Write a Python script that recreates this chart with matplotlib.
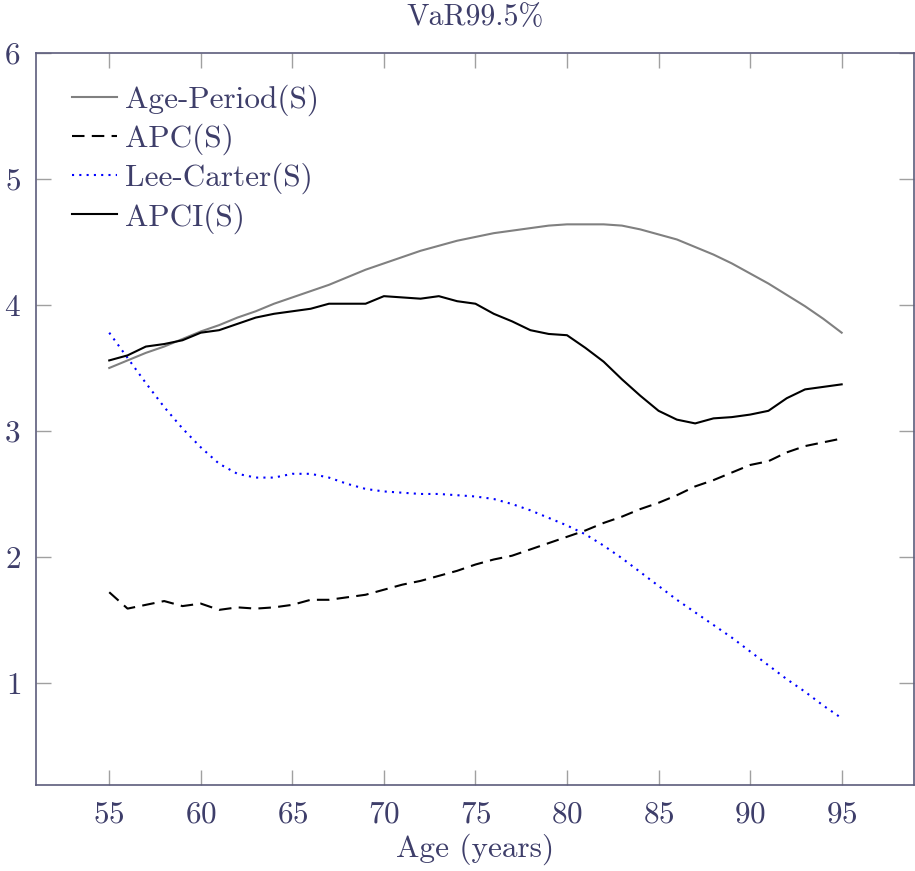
import matplotlib
matplotlib.use("Agg")
import matplotlib.pyplot as plt

# ages and VaR99.5% per model
ages = list(range(55, 96))

age_period = [3.50, 3.56, 3.62, 3.67, 3.73, 3.79, 3.84, 3.90, 3.95, 4.01,
              4.06, 4.11, 4.16, 4.22, 4.28, 4.33, 4.38, 4.43, 4.47, 4.51,
              4.54, 4.57, 4.59, 4.61, 4.63, 4.64, 4.64, 4.64, 4.63, 4.60,
              4.56, 4.52, 4.46, 4.40, 4.33, 4.25, 4.17, 4.08, 3.99, 3.89,
              3.78]

apc = [1.72, 1.59, 1.62, 1.65, 1.61, 1.63, 1.58, 1.60, 1.59, 1.60,
       1.62, 1.66, 1.66, 1.68, 1.70, 1.74, 1.78, 1.81, 1.85, 1.89,
       1.94, 1.98, 2.01, 2.06, 2.11, 2.16, 2.21, 2.27, 2.32, 2.38,
       2.43, 2.49, 2.56, 2.61, 2.67, 2.73, 2.76, 2.83, 2.88, 2.91,
       2.94]

lee_carter = [3.78, 3.58, 3.38, 3.19, 3.02, 2.87, 2.74, 2.66, 2.63, 2.63,
              2.66, 2.66, 2.63, 2.58, 2.54, 2.52, 2.51, 2.50, 2.50, 2.49,
              2.48, 2.46, 2.42, 2.37, 2.31, 2.25, 2.18, 2.09, 1.99, 1.88,
              1.77, 1.66, 1.56, 1.46, 1.36, 1.25, 1.14, 1.03, 0.93, 0.82,
              0.72]

apci = [3.56, 3.60, 3.67, 3.69, 3.72, 3.78, 3.80, 3.85, 3.90, 3.93,
        3.95, 3.97, 4.01, 4.01, 4.01, 4.07, 4.06, 4.05, 4.07, 4.03,
        4.01, 3.93, 3.87, 3.80, 3.77, 3.76, 3.66, 3.55, 3.41, 3.28,
        3.16, 3.09, 3.06, 3.10, 3.11, 3.13, 3.16, 3.26, 3.33, 3.35,
        3.37]

x_ticks = [55, 60, 65, 70, 75, 80, 85, 90, 95]
y_ticks = [1, 2, 3, 4, 5, 6]

text_col = "#3e3e6a"
spine_col = "#5c5c7c"
tick_col = "#a0a0a0"

plt.rcParams["font.family"] = ["cmr10", "DejaVu Serif"]
plt.rcParams["axes.formatter.use_mathtext"] = True
plt.rcParams["font.size"] = 22.5

fig = plt.figure(figsize=(9.15, 8.71), dpi=100)
ax = fig.add_axes([36 / 915, 1 - 785 / 871, 878 / 915, 732 / 871])

ax.plot(ages, age_period, color="#808080", lw=1.5, label="Age-Period(S)")
ax.plot(ages, apc, color="black", lw=1.5, dashes=(6, 3.5), label="APC(S)")
ax.plot(ages, lee_carter, color="blue", lw=1.5, dashes=(1, 2.5),
        label="Lee-Carter(S)")
ax.plot(ages, apci, color="black", lw=1.5, label="APCI(S)")

ax.set_xlim(51, 98.95)
ax.set_ylim(0.19, 6)
ax.set_xticks(x_ticks)
ax.set_yticks(y_ticks)
ax.tick_params(direction="in", length=11, width=1, color=tick_col,
               labelcolor=text_col, top=True, right=True, pad=11)
for s in ax.spines.values():
    s.set_color(spine_col)
    s.set_linewidth(1.2)

ax.set_xlabel("Age (years)", color=text_col, labelpad=4)
ax.set_title("VaR99.5%", color=text_col, fontsize=21.5, pad=20)

leg = ax.legend(loc="upper left", frameon=False, handlelength=1.45,
                handletextpad=0.26, labelspacing=0.25,
                borderaxespad=0.6, bbox_to_anchor=(0.005, 1.0))
for t in leg.get_texts():
    t.set_color(text_col)

fig.savefig("out.png", dpi=100)
